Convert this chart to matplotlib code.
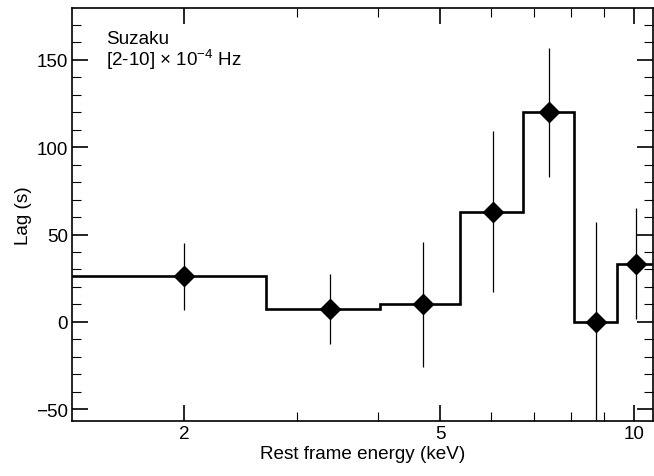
import numpy as np
import matplotlib.pyplot as plt
from matplotlib.ticker import FixedLocator, NullFormatter, FixedFormatter

plt.rcParams['font.family'] = ['Liberation Sans', 'DejaVu Sans']
plt.rcParams['mathtext.fontset'] = 'custom'
plt.rcParams['mathtext.rm'] = 'Liberation Sans'
plt.rcParams['mathtext.it'] = 'Liberation Sans:italic'

# data
energy = [2.0, 3.37, 4.71, 6.05, 7.39, 8.73, 10.1]
lag = [26, 7.3, 10, 63, 120, 0, 33.4]
lag_err = [19, 20, 36, 46, 37, 57, 32]
bin_edges = [1.3, 2.68, 4.04, 5.37, 6.73, 8.09, 9.42, 11.5]

fig = plt.figure(figsize=(6.54, 4.77), dpi=100)
ax = fig.add_axes([0.110, 0.1153, 0.8885, 0.8657])

ax.stairs(lag, bin_edges, baseline=None, color='black', lw=1.9)
ax.errorbar(energy, lag, yerr=lag_err, fmt='D', color='black', ms=10.5,
            elinewidth=0.9, capsize=0, zorder=3)

ax.set_xscale('log')
ax.set_xlim(1.339, 10.72)
ax.set_ylim(-56.7, 179.6)

ax.xaxis.set_major_locator(FixedLocator([2, 5, 10]))
ax.xaxis.set_major_formatter(FixedFormatter(['2', '5', '10']))
ax.xaxis.set_minor_locator(FixedLocator([3, 4, 6, 7, 8, 9]))
ax.xaxis.set_minor_formatter(NullFormatter())
ax.yaxis.set_major_locator(FixedLocator([-50, 0, 50, 100, 150]))
ax.yaxis.set_minor_locator(FixedLocator(np.arange(-50, 180, 10)))
ax.set_yticklabels(['\u221250', '0', '50', '100', '150'])

ax.tick_params(which='both', direction='in', top=True, right=True, labelsize=13.6)
ax.tick_params(which='major', length=11.5, width=1.2, pad=3)
ax.tick_params(which='minor', length=6.5, width=0.8)
for s in ax.spines.values():
    s.set_linewidth(1.2)

ax.set_xlabel('Rest frame energy (keV)', fontsize=13.6, labelpad=2)
ax.set_ylabel('Lag (s)', fontsize=13.6, labelpad=3)

ax.text(0.058, 0.915, 'Suzaku', transform=ax.transAxes, fontsize=13.6, va='baseline')
ax.text(0.058, 0.862, '[2-10] \u00d7 10$^{\\mathregular{-4}}$ Hz', transform=ax.transAxes,
        fontsize=13.6, va='baseline')

fig.savefig('out.png', dpi=100)
